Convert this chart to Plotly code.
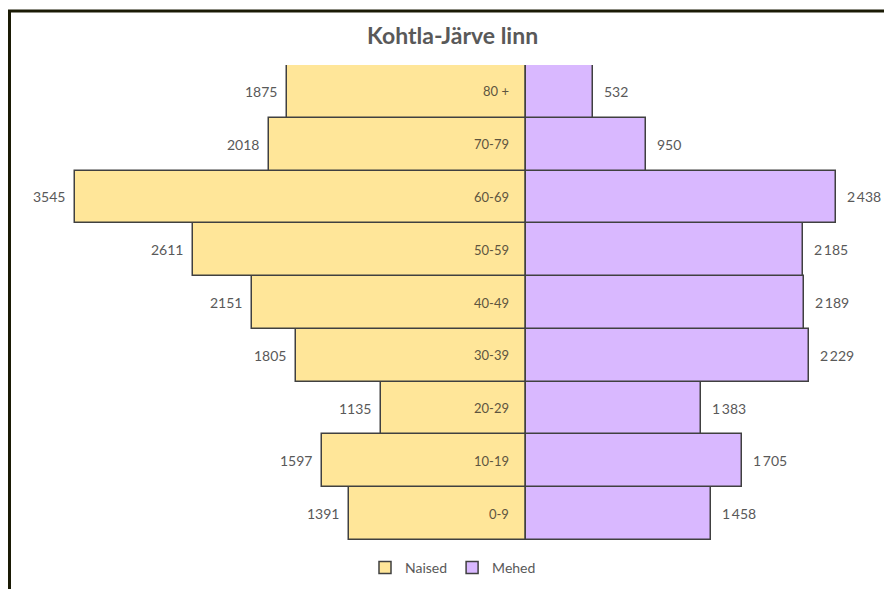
import plotly.graph_objects as go

categories = ["0-9", "10-19", "20-29", "30-39", "40-49", "50-59", "60-69", "70-79", "80 +"]
naised = [1391, 1597, 1135, 1805, 2151, 2611, 3545, 2018, 1875]
mehed = [1458, 1705, 1383, 2229, 2189, 2185, 2438, 950, 532]

OFF = 8  # page body margin
W, H = 892 - OFF, 589 - OFF


def px(x):
    return (x - OFF) / W


def py(y):
    return 1 - (y - OFF) / H


center_px = 525.5 - OFF
scale = 0.1272  # px per person
x_left = -center_px / scale
x_right = (W - center_px) / scale

FONT = "Lato, 'Open Sans', sans-serif"
TXT = "#595959"

fig = go.Figure()
fig.add_trace(go.Bar(
    y=categories, x=[-v for v in naised], orientation="h", name="Naised",
    marker=dict(color="#FFE699", line=dict(color="#404040", width=1.5)),
    customdata=naised, hovertemplate="%{y}: %{customdata}<extra>Naised</extra>",
))
fig.add_trace(go.Bar(
    y=categories, x=mehed, orientation="h", name="Mehed",
    marker=dict(color="#D9B8FF", line=dict(color="#404040", width=1.5)),
    hovertemplate="%{y}: %{x}<extra>Mehed</extra>",
))

annotations = []
for c, v in zip(categories, naised):
    annotations.append(dict(x=-v, y=c, xref="x", yref="y", text=str(v), showarrow=False,
                            xanchor="right", xshift=-8, font=dict(family=FONT, size=14, color=TXT)))
    annotations.append(dict(x=0, y=c, xref="x", yref="y", text=c, showarrow=False,
                            xanchor="right", xshift=-15, font=dict(family=FONT, size=13, color="#5e5540")))
for c, v in zip(categories, mehed):
    s = f"{v:,}".replace(",", "\u2009")
    annotations.append(dict(x=v, y=c, xref="x", yref="y", text=s, showarrow=False,
                            xanchor="left", xshift=9, font=dict(family=FONT, size=14, color=TXT)))

annotations.append(dict(x=px(452), y=py(35), xref="paper", yref="paper", text="<b>Kohtla-Järve linn</b>",
                        showarrow=False, xanchor="center", yanchor="middle",
                        font=dict(family=FONT, size=23, color=TXT)))

shapes = [
    dict(type="line", xref="paper", yref="paper", x0=px(8), x1=1, y0=py(11), y1=py(11),
         line=dict(color="#1a1a05", width=3)),
    dict(type="line", xref="paper", yref="paper", x0=px(8) + 1.5 / W, x1=px(8) + 1.5 / W, y0=0, y1=py(11),
         line=dict(color="#1a1a05", width=3)),
]

fig.update_layout(
    width=W, height=H,
    margin=dict(l=0, r=0, t=0, b=0),
    paper_bgcolor="white", plot_bgcolor="white",
    barmode="relative", bargap=0,
    showlegend=True,
    legend=dict(orientation="h", x=px(453), xanchor="center", y=py(568), yanchor="middle",
                font=dict(family=FONT, size=14, color=TXT), traceorder="normal",
                itemwidth=30, bgcolor="rgba(0,0,0,0)"),
    xaxis=dict(range=[x_left, x_right], visible=False, fixedrange=True),
    yaxis=dict(domain=[py(540), py(65)], range=[-0.5, 8.5], visible=False,
               categoryorder="array", categoryarray=categories),
    annotations=annotations,
    shapes=shapes,
)

fig.write_html("out.html")
